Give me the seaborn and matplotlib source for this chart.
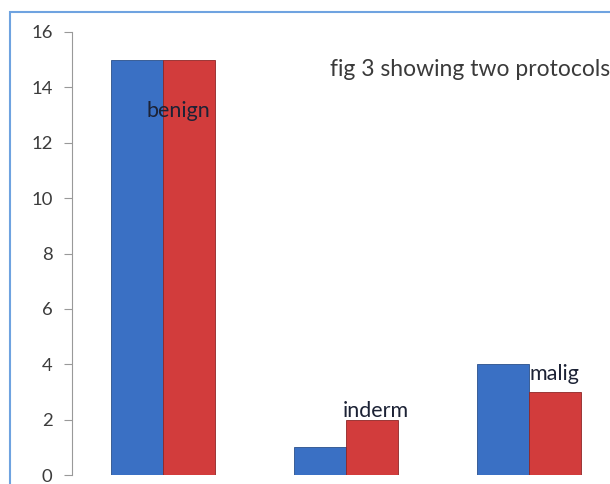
import matplotlib
matplotlib.use("Agg")
import matplotlib.pyplot as plt
import seaborn as sns
import pandas as pd
from matplotlib.patches import Rectangle

categories = ["benign", "inderm", "malig"]
protocol_a = [15, 1, 4]
protocol_b = [15, 2, 3]
series_names = ["Protocol 1", "Protocol 2"]
y_ticks = [0, 2, 4, 6, 8, 10, 12, 14, 16]
title_text = "fig 3 showing two protocols"

df = pd.DataFrame({
    "category": categories * 2,
    "value": protocol_a + protocol_b,
    "series": [series_names[0]] * 3 + [series_names[1]] * 3,
})

sns.set_theme(style="white")
plt.rcParams["font.family"] = ["Lato", "DejaVu Sans"]

W, H = 610, 484
fig = plt.figure(figsize=(W / 100, H / 100), dpi=100)
fig.patch.set_facecolor("white")

ax_left, ax_right = 72, 610
ax_top, ax_bottom = 32, 475
ax = fig.add_axes([ax_left / W, (H - ax_bottom) / H,
                   (ax_right - ax_left) / W, (ax_bottom - ax_top) / H])

sns.barplot(data=df, x="category", y="value", hue="series",
            palette=["#3a70c4", "#d23c3c"], width=0.57, ax=ax,
            legend=False, saturation=1, edgecolor="none")

for p in ax.patches:
    p.set_edgecolor("#2a4f8a" if p.get_facecolor()[0] < 0.5 else "#8f2626")
    p.set_linewidth(0.6)

ax.set_ylim(0, 16)
ax.set_xlim(-0.497, 2.443)
ax.set_yticks(y_ticks)
ax.set_yticklabels([str(t) for t in y_ticks], fontsize=13.3, color="#3c3c3c")
ax.set_xticks([])
ax.set_xlabel("")
ax.set_ylabel("")
ax.tick_params(axis="y", direction="out", length=6, width=0.8,
               color="#999999", left=True, pad=8)
for s in ["top", "right", "bottom"]:
    ax.spines[s].set_visible(False)
ax.spines["left"].set_color("#999999")
ax.spines["left"].set_linewidth(0.8)

# category labels placed over the bars (as in the source chart)
label_pos = [(0.082, 12.93), (0.164, 2.09), (0.142, 3.43)]
for i, (cat, (dx, yv)) in enumerate(zip(categories, label_pos)):
    ax.text(i + dx, yv, cat, ha="center", va="baseline", fontsize=15.5,
            color="#1c2235")

fig.text(330 / W, 1 - 76 / H, title_text, ha="left", va="baseline",
         fontsize=16.5, color="#3a3a3a")

# outer chart border
fig.patches.append(Rectangle((10 / W, -0.1), 1.2, 1 - 12 / H + 0.1,
                             transform=fig.transFigure, fill=False,
                             edgecolor="#6fa3e0", linewidth=1.5))

fig.savefig("out.png", dpi=100)
